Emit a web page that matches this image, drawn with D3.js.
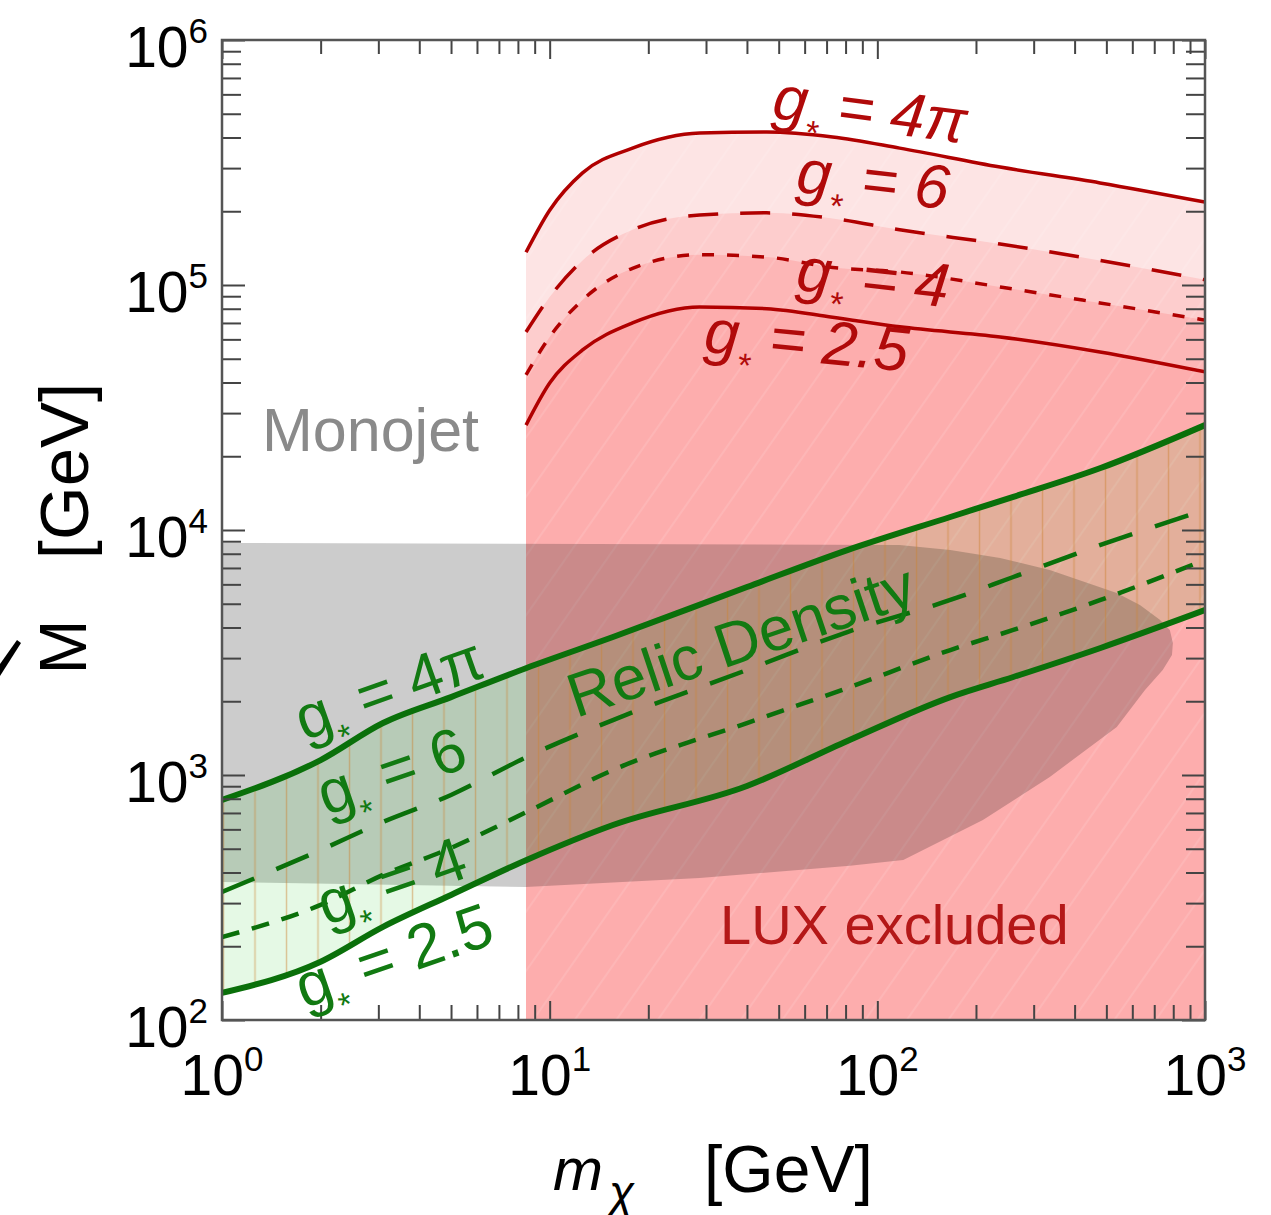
<!DOCTYPE html>
<html>
<head>
<meta charset="utf-8">
<script src="https://cdn.jsdelivr.net/npm/d3@7"></script>
<style>
  body { margin: 0; background: #fff; }
  text { font-family: "Liberation Sans", Arial, Helvetica, sans-serif; }
</style>
</head>
<body>
<div id="svg-container"></div>
<script>
// relic density band (green)
const relicMass = [1, 2, 3.1, 5, 8.5, 15.6, 40, 81, 167, 260, 480, 1000]
const relic4pi = [791, 1151, 1630, 2080, 2735, 3657, 5850, 8280, 11300, 13650, 17900, 26800]
const relic6 = [333, 494, 643, 829, 1184, 1676, 2683, 3834, 5180, 6430, 8690, 12070]
const relic4 = [218, 295, 391, 504, 706, 1048, 1630, 2265, 3236, 3908, 5180, 7550]
const relic25 = [129, 173, 240, 324, 450, 625, 902, 1377, 2080, 2512, 3300, 4710]

// LUX exclusion curves (red)
const luxMass = [8.47, 10, 12.6, 17.9, 28.7, 46, 73, 117, 237, 478, 1000]
const lux4pi = [136000, 202000, 287000, 362000, 417000, 421000, 402000, 362000, 303000, 261000, 218000]
const lux6 = [64300, 89300, 126000, 168000, 193000, 197000, 187000, 168000, 147000, 126000, 105000]
const lux4 = [43000, 61400, 86900, 117000, 133000, 130000, 118000, 113000, 98200, 84500, 71900]
const lux25 = [26800, 39800, 54300, 70000, 81300, 80000, 73900, 67500, 61400, 53300, 44200]

// monojet region outline (gray)
const monoMass = [1, 117, 167, 237, 336, 538, 633, 728, 781, 798, 793, 743, 656, 538, 336, 210, 120, 82.5, 28.7, 8.47, 1]
const monoM = [8850, 8690, 8280, 7690, 6870, 5530, 4940, 4300, 3908, 3460, 3090, 2683, 2223, 1570, 982, 655, 450, 426, 380, 349, 366]

// tick labels
const xDecades = [1, 10, 100, 1000]
const xTickLabels = ['0', '1', '2', '3']
const yDecades = [100, 1000, 10000, 100000, 1000000]
const yTickLabels = ['2', '3', '4', '5', '6']

const svg = d3.select('#svg-container').append('svg').attr('width', 1271).attr('height', 1215)
const margin = { top: 40, right: 66, bottom: 195, left: 222 }
const innerWidth = 1271 - margin.left - margin.right
const innerHeight = 1215 - margin.top - margin.bottom

const xScale = d3.scaleLog().domain([1, 1000]).range([0, innerWidth])
const yScale = d3.scaleLog().domain([100, 1e6]).range([innerHeight, 0])

const defs = svg.append('defs')
defs.append('clipPath').attr('id', 'plot-clip')
  .append('rect').attr('width', innerWidth).attr('height', innerHeight)
// faint diagonal hatch in the LUX region
const diag = defs.append('pattern').attr('id', 'diag').attr('patternUnits', 'userSpaceOnUse')
  .attr('width', 34).attr('height', 34).attr('patternTransform', 'rotate(35)')
diag.append('line').attr('x1', 1).attr('x2', 1).attr('y1', 0).attr('y2', 34)
  .attr('stroke', '#fff').attr('stroke-opacity', 0.15).attr('stroke-width', 1.5)
// vertical hatch in the relic band
const vh = defs.append('pattern').attr('id', 'vh').attr('patternUnits', 'userSpaceOnUse')
  .attr('width', 31.5).attr('height', 20)
vh.append('line').attr('x1', 1.5).attr('x2', 1.5).attr('y1', 0).attr('y2', 20)
  .attr('stroke', 'rgb(205,130,50)').attr('stroke-opacity', 0.45).attr('stroke-width', 1.5)

const g = svg.append('g').attr('transform', `translate(${margin.left}, ${margin.top})`)
const plot = g.append('g').attr('clip-path', 'url(#plot-clip)')

// LUX filled bands
const lux = luxMass.map((m, i) => ({ m, a: lux4pi[i], b: lux6[i], c: lux4[i], d: lux25[i] }))
const luxArea = key => d3.area().x(d => xScale(d.m)).y0(yScale(100)).y1(d => yScale(d[key])).curve(d3.curveMonotoneX)
const luxLine = key => d3.line().x(d => xScale(d.m)).y(d => yScale(d[key])).curve(d3.curveMonotoneX)
plot.append('path').datum(lux).attr('d', luxArea('a')).attr('fill', '#fde4e4')
plot.append('path').datum(lux).attr('d', luxArea('b')).attr('fill', '#fdcdcd')
plot.append('path').datum(lux).attr('d', luxArea('c')).attr('fill', '#fdb6b6')
plot.append('path').datum(lux).attr('d', luxArea('d')).attr('fill', '#fdadad')
plot.append('path').datum(lux).attr('d', luxArea('a')).attr('fill', 'url(#diag)')

// monojet
const mono = monoMass.map((m, i) => ({ m, M: monoM[i] }))
plot.append('path').datum(mono)
  .attr('d', d3.line().x(d => xScale(d.m)).y(d => yScale(d.M)).curve(d3.curveLinearClosed))
  .attr('fill', '#000').attr('fill-opacity', 0.2)

// relic band
const relic = relicMass.map((m, i) => ({ m, a: relic4pi[i], b: relic6[i], c: relic4[i], d: relic25[i] }))
const band = d3.area().x(d => xScale(d.m)).y0(d => yScale(d.d)).y1(d => yScale(d.a)).curve(d3.curveMonotoneX)
plot.append('path').datum(relic).attr('d', band).attr('fill', 'rgb(0,200,0)').attr('fill-opacity', 0.1)
plot.append('path').datum(relic).attr('d', band).attr('fill', 'url(#vh)')

// red curves
const red = '#b00000'
plot.append('path').datum(lux).attr('d', luxLine('a')).attr('fill', 'none').attr('stroke', red).attr('stroke-width', 3.5)
plot.append('path').datum(lux).attr('d', luxLine('b')).attr('fill', 'none').attr('stroke', red).attr('stroke-width', 3.5).attr('stroke-dasharray', '30,22')
plot.append('path').datum(lux).attr('d', luxLine('c')).attr('fill', 'none').attr('stroke', red).attr('stroke-width', 3.5).attr('stroke-dasharray', '12,13')
plot.append('path').datum(lux).attr('d', luxLine('d')).attr('fill', 'none').attr('stroke', red).attr('stroke-width', 3.5)

// green curves
const green = '#0a700a'
const relicLine = key => d3.line().x(d => xScale(d.m)).y(d => yScale(d[key])).curve(d3.curveMonotoneX)
plot.append('path').datum(relic).attr('d', relicLine('a')).attr('fill', 'none').attr('stroke', green).attr('stroke-width', 6)
plot.append('path').datum(relic).attr('d', relicLine('b')).attr('fill', 'none').attr('stroke', green).attr('stroke-width', 4.5).attr('stroke-dasharray', '35,24')
plot.append('path').datum(relic).attr('d', relicLine('c')).attr('fill', 'none').attr('stroke', green).attr('stroke-width', 4.5).attr('stroke-dasharray', '18,13')
plot.append('path').datum(relic).attr('d', relicLine('d')).attr('fill', 'none').attr('stroke', green).attr('stroke-width', 6)

// ticks on all four sides, pointing inwards
const minors = (decades) => decades.slice(0, -1).flatMap(d => d3.range(2, 10).map(k => d * k))
const tickColor = '#444'
const styleAxis = sel => {
  sel.select('.domain').remove()
  sel.selectAll('line').attr('stroke', tickColor).attr('stroke-width', 2)
}
g.append('g').attr('transform', `translate(0, ${innerHeight})`)
  .call(d3.axisBottom(xScale).tickValues(xDecades).tickSizeInner(-19).tickFormat('')).call(styleAxis)
g.append('g').attr('transform', `translate(0, ${innerHeight})`)
  .call(d3.axisBottom(xScale).tickValues(minors(xDecades)).tickSizeInner(-15).tickFormat('')).call(styleAxis)
g.append('g').call(d3.axisTop(xScale).tickValues(xDecades).tickSizeInner(-19).tickFormat('')).call(styleAxis)
g.append('g').call(d3.axisTop(xScale).tickValues(minors(xDecades)).tickSizeInner(-14).tickFormat('')).call(styleAxis)
g.append('g').call(d3.axisLeft(yScale).tickValues(yDecades).tickSizeInner(-23).tickFormat('')).call(styleAxis)
g.append('g').call(d3.axisLeft(yScale).tickValues(minors(yDecades)).tickSizeInner(-19).tickFormat('')).call(styleAxis)
g.append('g').attr('transform', `translate(${innerWidth}, 0)`)
  .call(d3.axisRight(yScale).tickValues(yDecades).tickSizeInner(-23).tickFormat('')).call(styleAxis)
g.append('g').attr('transform', `translate(${innerWidth}, 0)`)
  .call(d3.axisRight(yScale).tickValues(minors(yDecades)).tickSizeInner(-19).tickFormat('')).call(styleAxis)

// frame
g.append('rect').attr('width', innerWidth).attr('height', innerHeight)
  .attr('fill', 'none').attr('stroke', '#555').attr('stroke-width', 2.5)

// tick labels 10^n
xDecades.forEach((v, i) => {
  const t = g.append('text').attr('x', xScale(v)).attr('y', innerHeight + 75)
    .attr('text-anchor', 'middle').style('font-size', '57px').attr('fill', '#000')
  t.append('tspan').text('10')
  t.append('tspan').text(xTickLabels[i]).attr('dy', -24).style('font-size', '35px')
})
yDecades.forEach((v, i) => {
  const t = g.append('text').attr('x', -14).attr('y', yScale(v) + 27)
    .attr('text-anchor', 'end').style('font-size', '57px').attr('fill', '#000')
  t.append('tspan').text('10')
  t.append('tspan').text(yTickLabels[i]).attr('dy', -24).style('font-size', '35px')
})

// axis titles
svg.append('text').attr('transform', 'translate(86, 647) rotate(-90)').attr('text-anchor', 'middle')
  .style('font-size', '66px').text('M')
svg.append('text').attr('transform', 'translate(88, 471) rotate(-90)').attr('text-anchor', 'middle')
  .style('font-size', '69px').text('[GeV]')
const xt = svg.append('text').attr('x', 553).attr('y', 1190).style('font-size', '60px')
xt.append('tspan').text('m').style('font-style', 'italic')
xt.append('tspan').text('χ').style('font-style', 'italic').style('font-size', '46px').attr('dy', 18).attr('dx', 6)
svg.append('text').attr('x', 704).attr('y', 1192).style('font-size', '66px').text('[GeV]')

// region labels
svg.append('text').attr('x', 262).attr('y', 451).style('font-size', '61px').attr('fill', '#8a8a8a').text('Monojet')
svg.append('text').attr('x', 720).attr('y', 944).style('font-size', '56px').attr('fill', '#b41818').text('LUX excluded')
svg.append('text').attr('transform', 'translate(576, 718) rotate(-18.5)').style('font-size', '62px')
  .attr('fill', '#127a12').text('Relic Density')

// coupling labels g* = ...
function coupling(x, y, angle, value, italic, color) {
  const t = svg.append('text').attr('transform', `translate(${x}, ${y}) rotate(${angle})`)
    .attr('fill', color).style('font-size', '62px').style('font-style', italic ? 'italic' : 'normal')
  t.append('tspan').text('g')
  t.append('tspan').text('*').style('font-size', '34px').attr('dy', 21)
  t.append('tspan').text(' = ' + value).attr('dy', -21)
}
coupling(771, 118, 7.5, '4π', true, '#b00a0a')
coupling(795, 192, 6.5, '6', true, '#b00a0a')
coupling(795, 290, 6.5, '4', true, '#b00a0a')
coupling(703, 352, 5.5, '2.5', true, '#b00a0a')
coupling(304, 741, -19.5, '4π', false, '#127a12')
coupling(326, 816, -19, '6', false, '#127a12')
coupling(326, 926, -19, '4', false, '#127a12')
coupling(304, 1009, -19, '2.5', false, '#127a12')

// stray stroke at the left edge of the figure
svg.append('path').attr('d', 'M0,676 L0,664 L17,640 L21,643 Z').attr('fill', '#000')
</script>
</body>
</html>
